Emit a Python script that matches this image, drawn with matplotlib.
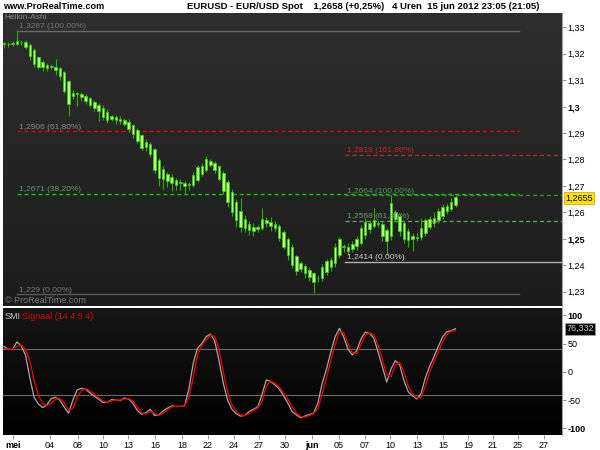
import numpy as np
import matplotlib
matplotlib.use('Agg')
import matplotlib.pyplot as plt
from matplotlib.colors import LinearSegmentedColormap

plt.rcParams['font.family'] = ['Liberation Sans', 'DejaVu Sans']

# Heikin-Ashi closes (4h-ish bars)
closes = [1.3237, 1.3235, 1.3240, 1.3250, 1.3245, 1.3225, 1.3190, 1.3160, 1.3150, 1.3148,
          1.3145, 1.3150, 1.3140, 1.3115, 1.3060, 1.3010, 1.3040, 1.3050, 1.3035, 1.3020,
          1.3005, 1.2995, 1.2985, 1.2960, 1.2950, 1.2955, 1.2950, 1.2945, 1.2935, 1.2915,
          1.2895, 1.2870, 1.2845, 1.2848, 1.2820, 1.2760, 1.2730, 1.2725, 1.2720, 1.2710,
          1.2705, 1.2710, 1.2700, 1.2705, 1.2740, 1.2770, 1.2775, 1.2800, 1.2795, 1.2760,
          1.2725, 1.2680, 1.2640, 1.2600, 1.2570, 1.2545, 1.2540, 1.2535, 1.2530, 1.2545,
          1.2575, 1.2570, 1.2550, 1.2540, 1.2505, 1.2470, 1.2440, 1.2400, 1.2380, 1.2385,
          1.2370, 1.2355, 1.2335, 1.2350, 1.2395, 1.2415, 1.2420, 1.2470, 1.2500, 1.2470,
          1.2455, 1.2480, 1.2500, 1.2540, 1.2565, 1.2560, 1.2570, 1.2555, 1.2510, 1.2490,
          1.2635, 1.2600, 1.2530, 1.2500, 1.2495, 1.2500, 1.2505, 1.2540, 1.2570, 1.2575,
          1.2580, 1.2605, 1.2620, 1.2625, 1.2640, 1.2658]
# wick lengths above / below the body, in pips
wick_up = [6, 8, 10, 37, 8, 6, 5, 8, 6, 10,
           6, 8, 30, 6, 5, 6, 10, 6, 8, 6,
           5, 8, 6, 10, 12, 6, 8, 10, 6, 12,
           6, 8, 5, 10, 8, 5, 6, 10, 8, 12,
           10, 15, 8, 10, 12, 8, 10, 15, 8, 6,
           5, 8, 6, 10, 12, 50, 15, 10, 12, 8,
           40, 12, 20, 10, 8, 6, 8, 10, 6, 8,
           10, 8, 6, 12, 10, 8, 12, 15, 8, 10,
           15, 12, 10, 12, 15, 10, 45, 10, 8, 6,
           30, 10, 8, 10, 12, 10, 15, 40, 10, 12,
           20, 12, 10, 12, 15, 6]
wick_dn = [15, 10, 8, 6, 10, 8, 15, 10, 8, 12,
           10, 8, 20, 15, 10, 44, 10, 45, 12, 10,
           8, 10, 40, 10, 12, 8, 15, 10, 8, 10,
           12, 8, 10, 15, 10, 12, 30, 35, 25, 30,
           20, 25, 30, 20, 10, 8, 10, 8, 10, 12,
           8, 10, 20, 15, 25, 20, 15, 20, 18, 12,
           10, 15, 20, 12, 15, 10, 20, 12, 15, 10,
           20, 15, 40, 12, 10, 8, 15, 12, 10, 20,
           15, 12, 15, 10, 12, 15, 10, 12, 20, 50,
           15, 10, 20, 15, 25, 45, 15, 10, 12, 10,
           15, 10, 12, 10, 8, 5]

smi = [45, 40, 40, 53, 46, 30, -10, -45, -57, -63,
       -58, -47, -45, -50, -62, -73, -50, -32, -29, -31,
       -37, -43, -48, -54, -54, -49, -49, -51, -46, -48,
       -56, -68, -75, -72, -66, -77, -76, -69, -64, -60,
       -61, -61, -60, -30, 15, 42, 50, 62, 67, 55,
       20, -20, -50, -66, -74, -78, -77, -70, -66, -62,
       -40, -14, -17, -23, -30, -42, -55, -70, -76, -81,
       -78, -75, -73, -55, -20, 5, 35, 62, 77, 62,
       40, 30, 37, 58, 70, 68, 60, 35, 9, -18,
       5, 20, 13, -15, -35, -42, -48, -38, -10, 10,
       27, 45, 62, 71, 73, 76.332]
signal = [42, 40, 40, 45, 48, 40, 20, -15, -42, -55,
          -60, -55, -48, -47, -55, -67, -65, -45, -33, -30,
          -33, -39, -45, -51, -54, -51, -49, -50, -48, -47,
          -52, -62, -72, -74, -70, -73, -77, -73, -67, -62,
          -61, -61, -60, -45, -10, 30, 47, 56, 65, 63,
          40, 0, -35, -58, -70, -76, -77, -74, -68, -64,
          -52, -25, -16, -20, -27, -36, -48, -62, -73, -79,
          -80, -77, -74, -65, -38, -10, 20, 48, 70, 70,
          50, 34, 33, 48, 64, 69, 65, 48, 22, -5,
          -8, 12, 17, 0, -25, -38, -46, -45, -25, 0,
          18, 36, 53, 66, 72, 73]

day_labels = ['mei', '04', '08', '10', '13', '16', '18', '22', '24', '27', '30',
              'jun', '05', '07', '10', '13', '15', '19', '21', '25', '27']
day_px = [13, 50, 78, 103, 128, 155, 182, 208, 234, 259, 285,
          312, 339, 365, 390, 417, 443, 468, 493, 518, 544]

fib1 = [1.3287, 1.2906, 1.2671, 1.229]
fib1_txt = ['1,3287 (100,00%)', '1,2906 (61,80%)', '1,2671 (38,20%)', '1,229 (0,00%)']
fib2 = [1.2818, 1.2664, 1.2568, 1.2414]
fib2_txt = ['1,2818 (161,80%)', '1,2664 (100,00%)', '1,2568 (61,80%)', '1,2414 (0,00%)']

W, H = 600, 450
def box(l, t, r, b):
    return [l / W, 1 - b / H, (r - l) / W, (b - t) / H]

def px2i(px):
    return (px - 4) / 4.3

fig = plt.figure(figsize=(6, 4.5), dpi=100, facecolor='white')
ax = fig.add_axes(box(3, 13, 562, 306))
ax2 = fig.add_axes(box(3, 308, 562, 435), sharex=ax)

x0, x1 = px2i(3), px2i(562)
ylo, yhi = 1.2246, 1.3354
slo, shi = -111.5, 113

# background gradients
cm1 = LinearSegmentedColormap.from_list('g1', ['#1c1c1c', '#2e2e2e'])
ax.imshow(np.linspace(0, 1, 100).reshape(-1, 1), extent=[x0, x1, ylo, yhi], origin='lower',
          aspect='auto', cmap=cm1, zorder=0)
cm2 = LinearSegmentedColormap.from_list('g2', ['#000000', '#161616'])
ax2.imshow(np.linspace(0, 1, 100).reshape(-1, 1), extent=[x0, x1, slo, shi], origin='lower',
           aspect='auto', cmap=cm2, zorder=0)

# heikin-ashi candles
x = np.arange(len(closes))
c = np.array(closes)
o = np.zeros_like(c)
o[0] = c[0]
for i in range(1, len(c)):
    o[i] = (o[i - 1] + c[i - 1]) / 2
top = np.maximum(o, c)
bot = np.minimum(o, c)
hi = top + np.array(wick_up) * 1e-4
lo = bot - np.array(wick_dn) * 1e-4
ax.vlines(x, lo, hi, color='#2fae00', lw=0.8, zorder=3)
ax.bar(x, np.maximum(top - bot, 0.0002), bottom=bot, width=0.6, color='#b4ff7c',
       edgecolor='#36c80c', linewidth=0.6, zorder=4)

# fibonacci levels
styles1 = [('#686868', '-'), ('#e00000', (0, (3, 2))), ('#00c800', (0, (3, 2))), ('#5a5a5a', '-')]
cols1 = ['#777777', '#8a8a8a', '#6e8f6e', '#7a7a7a']
for lv, t, (col, ls), tc in zip(fib1, fib1_txt, styles1, cols1):
    ax.plot([px2i(17), px2i(519)], [lv, lv], color=col, ls=ls, lw=1, zorder=2)
    ax.text(px2i(19), lv + 0.0002, t, color=tc, fontsize=6, va='bottom', zorder=5)
styles2 = [('#a03030', (0, (3, 2))), ('#2e8a2e', (0, (3, 2))), ('#5a9a5a', (0, (3, 2))), ('#b0b0b0', '-')]
cols2 = ['#d02020', '#5f8f5f', '#6e9a6e', '#cfcfcf']
for lv, t, (col, ls), tc in zip(fib2, fib2_txt, styles2, cols2):
    ax.plot([px2i(345), x1], [lv, lv], color=col, ls=ls, lw=1, zorder=2)
    ax.text(px2i(347), lv + 0.0002, t, color=tc, fontsize=6, va='bottom', zorder=5)

ax.text(0.003, 0.995, 'Heikin-Ashi', transform=ax.transAxes, color='#8a8a8a', fontsize=6, va='top')
ax.text(0.003, 0.005, '© ProRealTime.com', transform=ax.transAxes, color='#7a7a7a', fontsize=6.5, va='bottom')

ax.set_xlim(x0, x1)
ax.set_ylim(ylo, yhi)
yt = [1.23, 1.24, 1.25, 1.26, 1.27, 1.28, 1.29, 1.30, 1.31, 1.32, 1.33]
ax.yaxis.tick_right()
ax.set_yticks(yt)
ax.set_yticklabels(['1,23', '1,24', '1,25', '1,26', '1,27', '1,28', '1,29', '1,3', '1,31', '1,32', '1,33'])
for lab in ax.get_yticklabels():
    if lab.get_text() in ('1,25', '1,3'):
        lab.set_fontweight('bold')
        lab.set_fontsize(7)
ax.tick_params(axis='y', length=3, pad=1, labelsize=6.5, color='#8899aa', labelcolor='black')
ax.tick_params(axis='x', bottom=False, labelbottom=False)
for s in ['top', 'left', 'bottom']:
    ax.spines[s].set_visible(False)
ax.spines['right'].set_color('#a0a0a0')

ax.text(1.006, 1.2655, '1,2655', transform=ax.get_yaxis_transform(), fontsize=6.5,
        va='center', ha='left', color='black',
        bbox=dict(boxstyle='square,pad=0.15', fc='#ffe000', ec='#c8a000', lw=0.5))

# SMI panel
for lv in (40, -40):
    ax2.axhline(lv, color='#6a6a6a', lw=0.8, zorder=1)
ax2.plot(x, smi, color='#a8a8a8', lw=0.9, zorder=3)
ax2.plot(x, signal, color='#e00000', lw=1.0, zorder=4)
ax2.set_ylim(slo, shi)
ax2.yaxis.tick_right()
ax2.set_yticks([100, 50, 0, -50, -100])
ax2.set_yticklabels(['100', '50', '0', '-50', '-100'])
for lab in ax2.get_yticklabels():
    if lab.get_text() in ('100', '-100'):
        lab.set_fontweight('bold')
        lab.set_fontsize(7)
ax2.tick_params(axis='y', length=3, pad=1, labelsize=6.5, color='#8899aa', labelcolor='black')
ax2.set_xticks([px2i(p) for p in day_px])
ax2.set_xticklabels(day_labels)
for lab in ax2.get_xticklabels():
    if lab.get_text() in ('mei', 'jun'):
        lab.set_fontweight('bold')
        lab.set_fontsize(7)
ax2.tick_params(axis='x', length=3, pad=1, labelsize=6.5, color='#8899aa', labelcolor='black')
for s in ['top', 'left', 'bottom']:
    ax2.spines[s].set_visible(False)
ax2.spines['right'].set_color('#a0a0a0')

ax2.text(0.003, 0.97, 'SMI', transform=ax2.transAxes, color='#c8c8c8', fontsize=6.5, va='top')
ax2.text(0.034, 0.97, 'Signaal (14 4 5 4)', transform=ax2.transAxes, color='#e00000', fontsize=6.5, va='top')
ax2.text(1.008, smi[-1], '76,332', transform=ax2.get_yaxis_transform(), fontsize=6.5,
         va='center', ha='left', color='#d0d0d0',
         bbox=dict(boxstyle='square,pad=0.15', fc='black', ec='#a0a0a0', lw=0.6))

# header line
fig.text(3 / W, 1 - 6.5 / H, 'www.ProRealTime.com', fontsize=6.6, fontweight='bold', va='center')
fig.text(187 / W, 1 - 6.5 / H, 'EURUSD - EUR/USD Spot    1,2658 (+0,25%)   4 Uren  15 jun 2012 23:05 (21:05)',
         fontsize=6.8, fontweight='bold', va='center')

fig.savefig('out.png', dpi=100, facecolor='white')
